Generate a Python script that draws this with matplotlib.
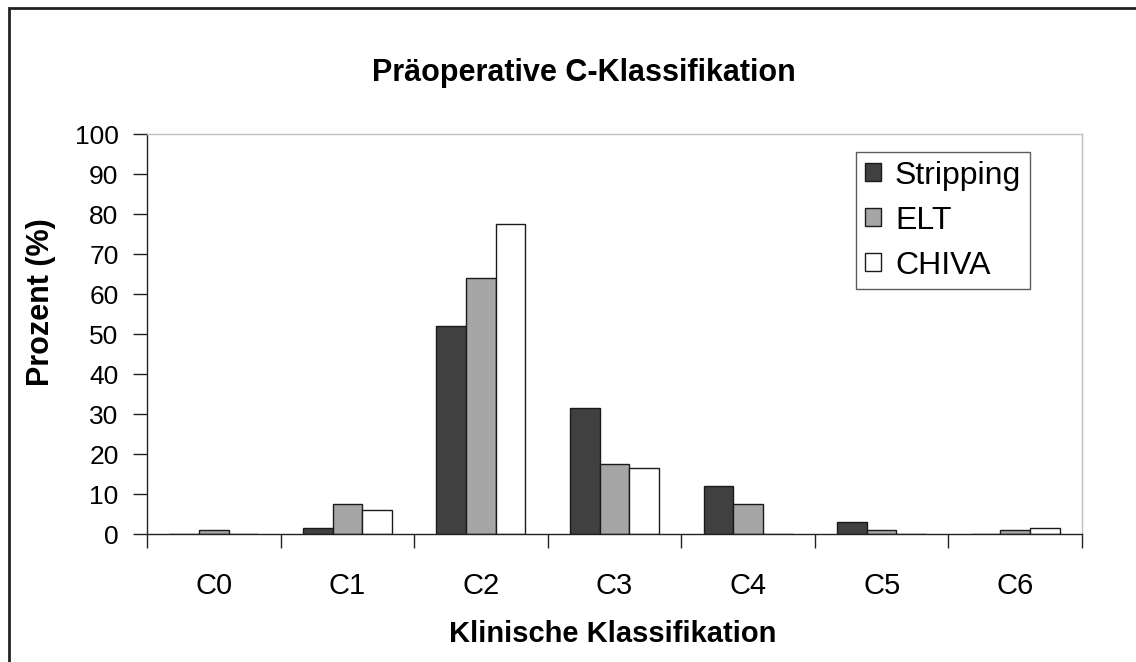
import matplotlib
matplotlib.use("Agg")
import matplotlib.pyplot as plt
import numpy as np
from matplotlib.patches import Rectangle

plt.rcParams['font.family'] = ['Liberation Sans', 'DejaVu Sans']

categories = ["C0", "C1", "C2", "C3", "C4", "C5", "C6"]
series_names = ["Stripping", "ELT", "CHIVA"]
stripping = [0.0, 1.5, 52.0, 31.7, 12.1, 3.0, 0.0]
elt = [1.0, 7.5, 64.2, 17.6, 7.5, 1.0, 1.0]
chiva = [0.0, 6.0, 77.7, 16.6, 0.0, 0.0, 1.5]
colors = ["#404040", "#a6a6a6", "#ffffff"]
yticks = list(range(0, 101, 10))

W, H = 1136, 662
fig = plt.figure(figsize=(W / 100, H / 100), dpi=100)
ax = fig.add_axes([147 / W, 1 - 534.3 / H, 935 / W, 399.8 / H])

# outer frame
fig.patches.append(Rectangle((8.5 / W, -0.1), 1.2, 1 - 8 / H + 0.1, transform=fig.transFigure,
                             fill=False, edgecolor="#222222", linewidth=2.0, zorder=0))

x = np.arange(len(categories))
w = 0.222
for i, (vals, name, c) in enumerate(zip([stripping, elt, chiva], series_names, colors)):
    ax.bar(x + (i - 1) * w, vals, width=w, color=c, edgecolor="#1a1a1a", linewidth=1.0,
           label=name, zorder=2)

ax.set_xlim(-0.5, len(categories) - 0.5)
ax.set_ylim(0, 100)
ax.set_yticks(yticks)
ax.set_yticklabels([str(v) for v in yticks], fontsize=19)
ax.set_xticks(np.arange(-0.5, len(categories), 1.0))
ax.set_xticklabels([])
ax.set_xticks(x, minor=True)
ax.set_xticklabels(categories, minor=True, fontsize=21)
ax.tick_params(axis='x', which='major', direction='out', length=10, width=1, color="#222222")
ax.tick_params(axis='x', which='minor', length=0, pad=27)
ax.tick_params(axis='y', direction='out', length=10, width=1, color="#222222", pad=10.5)

for s in ['top', 'right']:
    ax.spines[s].set_color("#c0c0c0")
    ax.spines[s].set_linewidth(1.0)
for s in ['left', 'bottom']:
    ax.spines[s].set_color("#222222")
    ax.spines[s].set_linewidth(1.0)

fig.text(41 / W, 1 - 302 / H, "Prozent (%)", fontsize=22, fontweight='bold',
         rotation=90, ha='center', va='center')
fig.text(613 / W, 1 - 634 / H, "Klinische Klassifikation", fontsize=21, fontweight='bold',
         ha='center', va='center')
fig.text(584 / W, 1 - 73 / H, "Präoperative C-Klassifikation", fontsize=22, fontweight='bold',
         ha='center', va='center')

leg = ax.legend(loc='upper left', bbox_to_anchor=((856 - 147) / 935, 1 - (152 - 134.5) / 399.8),
                fontsize=23, frameon=True, fancybox=False, handlelength=0.5, handleheight=0.5,
                handletextpad=0.45, labelspacing=0.47, borderpad=0.27, borderaxespad=0)
leg.get_frame().set_edgecolor("#333333")
leg.get_frame().set_linewidth(1.0)

fig.savefig("out.png", dpi=100)
